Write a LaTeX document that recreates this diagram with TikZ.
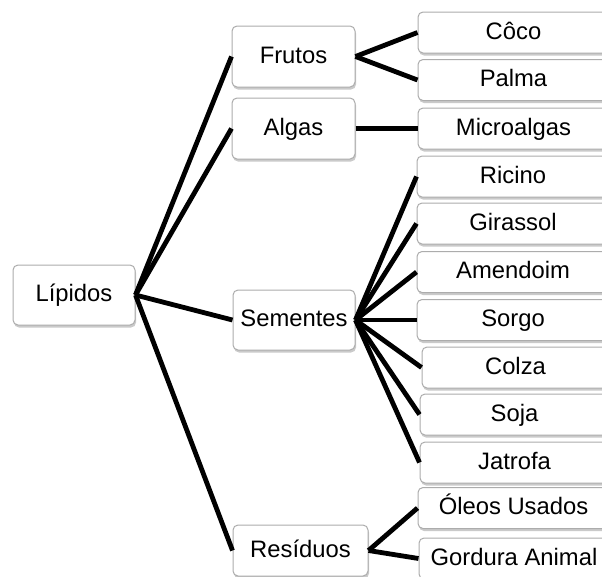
\documentclass[tikz,border=0pt]{standalone}
\usepackage{fontspec}
\setmainfont{Liberation Sans}
\usetikzlibrary{shadows}
\tikzset{
  box/.style={draw=gray!65, line width=1pt, rounded corners=5pt, fill=white,
    font=\fontsize{23.8}{26}\selectfont, inner sep=0pt, text height=17pt, text depth=4pt,
    drop shadow={shadow xshift=1pt, shadow yshift=-2.5pt, fill=gray!70, opacity=0.6}},
  leaf/.style={box, minimum height=41pt},
  conn/.style={line width=4.8pt, black},
}
\begin{document}
\begin{tikzpicture}[x=1pt,y=-1pt]
\useasboundingbox (0,0) rectangle (602,576);
\begin{scope}
\clip (0,0) rectangle (602,576);
\node[box, minimum width=122pt, minimum height=60pt] (lip) at (74,295) {Lípidos};
\node[box, minimum width=123pt, minimum height=61pt] (fru) at (293.5,56.5) {Frutos};
\node[box, minimum width=123pt, minimum height=61pt] (alg) at (293.5,128.5) {Algas};
\node[box, minimum width=122pt, minimum height=60pt] (sem) at (294,320) {Sementes};
\node[box, minimum width=135pt, minimum height=51pt] (res) at (300.5,550.5) {Resíduos};
\node[leaf, minimum width=191pt] (coco) at (513.5,32.5) {Côco};
\node[leaf, minimum width=191pt] (palma) at (513.5,80) {Palma};
\node[leaf, minimum width=191pt] (micro) at (513.5,128.5) {Microalgas};
\node[leaf, minimum width=192pt] (ricino) at (513,176.5) {Ricino};
\node[leaf, minimum width=192pt] (gira) at (513,223.5) {Girassol};
\node[leaf, minimum width=192pt] (amen) at (513,272) {Amendoim};
\node[leaf, minimum width=192pt] (sorgo) at (513,320) {Sorgo};
\node[leaf, minimum width=187pt] (colza) at (515.5,367.5) {Colza};
\node[leaf, minimum width=189pt] (soja) at (514.5,414.5) {Soja};
\node[leaf, minimum width=189pt] (jatrofa) at (514.5,462.5) {Jatrofa};
\node[leaf, minimum width=191pt] (oleos) at (513.5,508) {Óleos Usados};
\node[leaf, minimum width=190pt] (gordura) at (514,558.5) {Gordura Animal};
\draw[conn] (lip.east) -- (fru.west);
\draw[conn] (lip.east) -- (alg.west);
\draw[conn] (lip.east) -- (sem.west);
\draw[conn] (lip.east) -- (res.west);
\draw[conn] (fru.east) -- (coco.west);
\draw[conn] (fru.east) -- (palma.west);
\draw[conn] (alg.east) -- (micro.west);
\foreach \n in {ricino,gira,amen,sorgo,colza,soja,jatrofa}
  \draw[conn] (sem.east) -- (\n.west);
\draw[conn] (res.east) -- (oleos.west);
\draw[conn] (res.east) -- (gordura.west);
\end{scope}
\end{tikzpicture}
\end{document}
